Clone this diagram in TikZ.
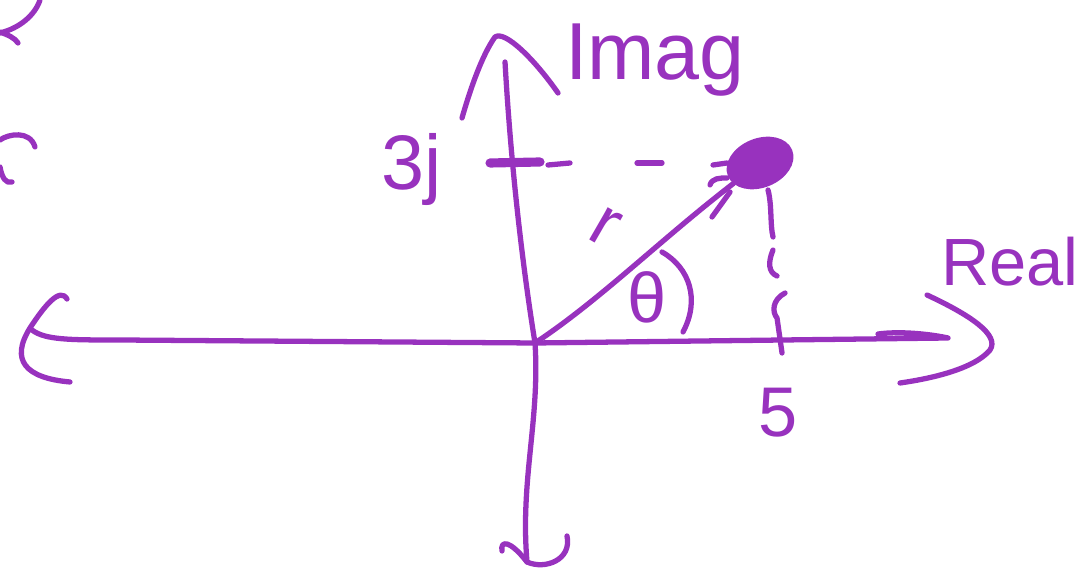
\documentclass[tikz,border=0pt]{standalone}
\usepackage{fontspec}
\setmainfont{Liberation Sans}
\usepackage{tikz}
\usetikzlibrary{positioning,shapes.geometric}
\definecolor{ink}{RGB}{152,50,190}

\begin{document}
\begin{tikzpicture}[
    x=0.01cm, y=-0.01cm,
    pen/.style={draw=ink, line width=1.5pt, line cap=round, line join=round},
    lbl/.style={text=ink, inner sep=0pt, font=\fontsize{20}{22}\selectfont}
]
    \useasboundingbox (0,0) rectangle (1080,577);

    \coordinate (O) at (535,343);
    \node[pen, fill=ink, ellipse, minimum width=0.64cm, minimum height=0.44cm, inner sep=0pt, rotate=22] (pt) at (760,163) {};

    \draw[pen] (32,330) .. controls (45,340) and (70,340) .. (120,340) -- (O) -- (948,338) .. controls (930,334) and (900,331) .. (878,334);
    \draw[pen] (67,299) .. controls (60,287) and (45,305) .. (30,328) .. controls (10,360) and (25,378) .. (70,382);
    \draw[pen] (927,295) .. controls (970,315) and (1000,335) .. (990,350) .. controls (975,368) and (935,378) .. (900,383);

    \draw[pen] (505,62) .. controls (510,150) and (520,250) .. (O) .. controls (540,420) and (520,480) .. (527,562);
    \draw[pen] (462,118) .. controls (470,90) and (482,55) .. (495,37) .. controls (505,30) and (535,60) .. (558,93);
    \draw[pen] (502,551) .. controls (500,540) and (510,540) .. (527,562) .. controls (545,570) and (572,560) .. (567,536);

    \draw[pen, line width=2.6pt] (490,163) -- (540,162);
    \draw[pen] (548,165) -- (570,163);
    \draw[pen] (637,163) -- (662,163);
    \draw[pen] (713,165) -- (727,163);
    \draw[pen] (710,185) .. controls (712,178) and (720,178) .. (727,178);

    \draw[pen] (O) .. controls (600,300) and (660,240) .. (pt);
    \draw[pen] (712,217) -- (730,192);

    \draw[pen] (768,190) .. controls (772,205) and (770,225) .. (773,237);
    \draw[pen] (773,250) .. controls (768,262) and (768,272) .. (777,276);
    \draw[pen] (785,293) .. controls (772,300) and (772,312) .. (777,318) -- (782,353);

    \draw[pen] (662,252) .. controls (690,268) and (700,300) .. (683,332);

    \draw[pen] (40,0) .. controls (35,15) and (20,28) .. (0,33);
    \draw[pen] (0,32) .. controls (8,35) and (15,38) .. (18,43);
    \draw[pen] (0,140) .. controls (8,134) and (30,130) .. (35,147);
    \draw[pen] (0,167) .. controls (2,178) and (6,184) .. (12,182);

    \node[lbl, font=\fontsize{23}{25}\selectfont] (imag) at (655,60) {Imag};
    \node[lbl, font=\fontsize{19}{21}\selectfont] (real) at (1010,262) {Real};
    \node[lbl, font=\fontsize{22}{24}\selectfont] (threej) at (412,170) {3j};
    \node[lbl] (five) at (778,413) {5};
    \node[lbl, rotate=-30] (r) at (605,227) {r};
    \node[lbl] (theta) at (647,297) {θ};
\end{tikzpicture}
\end{document}
